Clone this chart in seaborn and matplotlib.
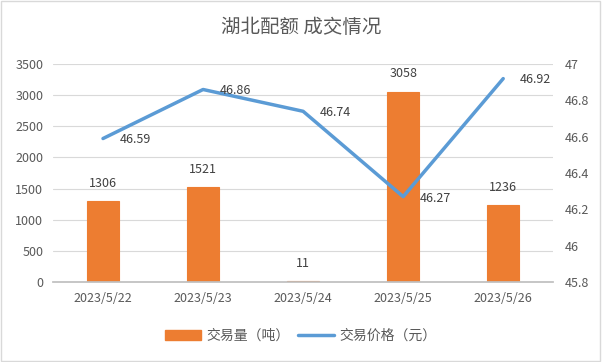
import matplotlib
matplotlib.use('Agg')
import matplotlib.pyplot as plt
import matplotlib.patches as mpatches
import seaborn as sns
import pandas as pd

dates = ['2023/5/22', '2023/5/23', '2023/5/24', '2023/5/25', '2023/5/26']
volume = [1306, 1521, 11, 3058, 1236]
price = [46.59, 46.86, 46.74, 46.27, 46.92]
vol_ticks = [0, 500, 1000, 1500, 2000, 2500, 3000, 3500]
price_ticks = [45.8, 46, 46.2, 46.4, 46.6, 46.8, 47]
price_tick_labels = ['45.8', '46', '46.2', '46.4', '46.6', '46.8', '47']

ORANGE = "#ED7D31"
BLUE = "#5B9BD5"
GRAY = "#595959"

sns.set_theme(style='white')
plt.rcParams['font.family'] = ['Noto Sans CJK SC', 'DejaVu Sans']

df = pd.DataFrame({'date': dates, 'volume': volume, 'price': price})

fig = plt.figure(figsize=(6.02, 3.62), dpi=100)
fig.patches.append(mpatches.Rectangle((0.002, 0.003), 0.995, 0.993, transform=fig.transFigure,
                                      fill=False, edgecolor='#D9D9D9', linewidth=1))
ax = fig.add_axes([0.088, 0.221, 0.831, 0.602])

sns.barplot(data=df, x='date', y='volume', color=ORANGE, width=0.32, ax=ax, saturation=1,
            edgecolor=ORANGE, linewidth=0.8)
ax.set_ylim(0, 3500)
ax.set_yticks(vol_ticks)
ax.set_xlim(-0.5, 4.5)
ax.grid(axis='y', color='#D9D9D9', linewidth=0.8)
ax.set_axisbelow(True)
for s in ['top', 'right', 'left']:
    ax.spines[s].set_visible(False)
ax.spines['bottom'].set_color('#BFBFBF')
ax.set_xlabel('')
ax.set_ylabel('')
ax.tick_params(axis='y', length=0, labelsize=9, labelcolor=GRAY, pad=7)
ax.tick_params(axis='x', length=0, labelsize=9, labelcolor=GRAY, pad=7)
for i, v in enumerate(volume):
    ax.annotate(str(v), (i, v), xytext=(0, 8), textcoords='offset points',
                ha='center', va='bottom', fontsize=9, color='#404040')

ax2 = ax.twinx()
sns.lineplot(x=list(range(len(dates))), y=price, color=BLUE, linewidth=2.5, ax=ax2)
ax2.set_ylim(45.8, 47)
ax2.set_yticks(price_ticks)
ax2.set_yticklabels(price_tick_labels)
for s in ['top', 'right', 'left', 'bottom']:
    ax2.spines[s].set_visible(False)
ax2.tick_params(axis='y', length=0, labelsize=9, labelcolor=GRAY, pad=8)
for i, p in enumerate(price):
    ax2.annotate(f'{p:.2f}', (i, p), xytext=(12, -1), textcoords='offset points',
                 ha='left', va='center', fontsize=9, color='#404040')

fig.text(0.5, 0.925, '湖北配额 成交情况', ha='center', va='center', fontsize=14, color=GRAY)

handles = [mpatches.Patch(color=ORANGE, label='交易量（吨）'),
           plt.Line2D([0], [0], color=BLUE, linewidth=2.5, label='交易价格（元）')]
fig.legend(handles=handles, loc='center', bbox_to_anchor=(0.5, 0.072), ncol=2, frameon=False,
           fontsize=10, labelcolor=GRAY, handlelength=2.6, handletextpad=0.4, columnspacing=0.6)

fig.savefig('out.png', dpi=100)
